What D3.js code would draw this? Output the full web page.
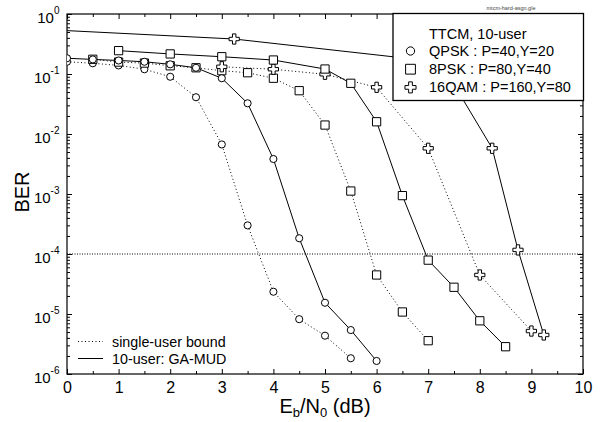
<!DOCTYPE html>
<html>
<head>
<meta charset="utf-8">
<script src="https://cdn.jsdelivr.net/npm/d3@7"></script>
<style>
  body { margin: 0; background: #fff; }
  svg { font-family: "Liberation Sans", Arial, sans-serif; }
</style>
</head>
<body>
<script>
// data: Eb/N0 points (dB) and BER for each curve
var snrQpskSU = [0, 0.5, 1, 1.5, 2, 2.5, 3, 3.5, 4, 4.5, 5, 5.5];
var berQpskSU = [0.160, 0.151, 0.139, 0.120, 0.090, 0.041, 0.0067, 3.0e-4, 2.35e-5, 8.2e-6, 4.35e-6, 1.83e-6];

var snrQpskMUD = [0, 0.5, 1, 1.5, 2, 2.5, 3, 3.5, 4, 4.5, 5, 5.5, 6];
var berQpskMUD = [0.183, 0.175, 0.168, 0.160, 0.145, 0.127, 0.085, 0.0325, 0.00383, 1.83e-4, 1.54e-5, 5.4e-6, 1.65e-6];

var snr8pskSU = [0.5, 1, 1.5, 2, 2.5, 3, 3.5, 4, 4.5, 5, 5.5, 6, 6.5, 7];
var ber8pskSU = [0.176, 0.158, 0.152, 0.137, 0.127, 0.1135, 0.105, 0.085, 0.0527, 0.0141, 0.00112, 4.47e-5, 1.08e-5, 3.59e-6];

var snr8pskMUD = [1, 2, 3, 4, 5, 5.5, 6, 6.5, 7, 7.5, 8, 8.5];
var ber8pskMUD = [0.245, 0.216, 0.194, 0.171, 0.121, 0.070, 0.016, 9.4e-4, 7.9e-5, 2.79e-5, 7.7e-6, 2.85e-6];

var snr16qamSU = [3, 4, 5, 6, 7, 8, 9];
var ber16qamSU = [0.132, 0.120, 0.099, 0.060, 0.00578, 4.47e-5, 5.2e-6];

var snr16qamMUD = [-0.76, 3.24, 7.24, 8.24, 8.74, 9.24];
var ber16qamMUD = [0.57, 0.383, 0.158, 0.00578, 1.17e-4, 4.47e-6];

var xTicks = [0, 1, 2, 3, 4, 5, 6, 7, 8, 9, 10];
var yTickExps = [0, -1, -2, -3, -4, -5, -6];
var refBer = 1e-4;

var legendRows = ["QPSK : P=40,Y=20", "8PSK : P=80,Y=40", "16QAM : P=160,Y=80"];
var lineLegend = ["single-user bound", "10-user: GA-MUD"];

var series = [
  {x: snrQpskSU, y: berQpskSU, sym: d3.symbolCircle, size: 40, legSize: 54, dash: "1,2.5"},
  {x: snr8pskSU, y: ber8pskSU, sym: d3.symbolSquare, size: 68, legSize: 96, dash: "1,2.5"},
  {x: snr16qamSU, y: ber16qamSU, sym: d3.symbolCross, size: 58, legSize: 68, dash: "1,2.5"},
  {x: snrQpskMUD, y: berQpskMUD, sym: d3.symbolCircle, size: 40, dash: null},
  {x: snr8pskMUD, y: ber8pskMUD, sym: d3.symbolSquare, size: 68, dash: null},
  {x: snr16qamMUD, y: ber16qamMUD, sym: d3.symbolCross, size: 58, dash: null}
];

var width = 603, height = 422;
var plotL = 67, plotR = 583, plotT = 14, plotB = 374;

var svg = d3.select("body").append("svg")
  .attr("width", width)
  .attr("height", height);

var x = d3.scaleLinear().domain([0, 10]).range([plotL, plotR]);
var y = d3.scaleLog().domain([1e-6, 1]).range([plotB, plotT]);

svg.append("defs").append("clipPath").attr("id", "plotclip")
  .append("rect").attr("x", plotL).attr("y", plotT)
  .attr("width", plotR - plotL).attr("height", plotB - plotT);

// minor ticks
var minorX = d3.range(0.5, 10, 1);
var minorY = [];
yTickExps.slice(1).forEach(function(e) {
  for (var k = 2; k <= 9; k++) minorY.push(k * Math.pow(10, e));
});

function styleAxis(g) {
  g.select(".domain").remove();
  g.selectAll("line").attr("stroke", "#000").attr("stroke-width", 1);
}

// x axis (bottom + top)
svg.append("g")
  .attr("transform", `translate(0,${plotB})`)
  .call(d3.axisBottom(x).tickValues(xTicks).tickSizeInner(-5).tickSizeOuter(0).tickPadding(8).tickFormat(d3.format("d")))
  .call(styleAxis)
  .selectAll("text").attr("font-size", 16).attr("fill", "#000")
  .attr("font-family", "Liberation Sans, Arial, sans-serif");
svg.append("g")
  .attr("transform", `translate(0,${plotB})`)
  .call(d3.axisBottom(x).tickValues(minorX).tickSizeInner(-3).tickSizeOuter(0).tickFormat(""))
  .call(styleAxis);
svg.append("g")
  .attr("transform", `translate(0,${plotT})`)
  .call(d3.axisTop(x).tickValues(xTicks).tickSizeInner(-5).tickSizeOuter(0).tickFormat(""))
  .call(styleAxis);
svg.append("g")
  .attr("transform", `translate(0,${plotT})`)
  .call(d3.axisTop(x).tickValues(minorX).tickSizeInner(-3).tickSizeOuter(0).tickFormat(""))
  .call(styleAxis);

// y axis (left + right)
var yMajor = yTickExps.map(function(e) { return Math.pow(10, e); });
svg.append("g")
  .attr("transform", `translate(${plotL},0)`)
  .call(d3.axisLeft(y).tickValues(yMajor).tickSizeInner(-5).tickSizeOuter(0).tickFormat(""))
  .call(styleAxis);
svg.append("g")
  .attr("transform", `translate(${plotL},0)`)
  .call(d3.axisLeft(y).tickValues(minorY).tickSizeInner(-3).tickSizeOuter(0).tickFormat(""))
  .call(styleAxis);
svg.append("g")
  .attr("transform", `translate(${plotR},0)`)
  .call(d3.axisRight(y).tickValues(yMajor).tickSizeInner(-5).tickSizeOuter(0).tickFormat(""))
  .call(styleAxis);
svg.append("g")
  .attr("transform", `translate(${plotR},0)`)
  .call(d3.axisRight(y).tickValues(minorY).tickSizeInner(-3).tickSizeOuter(0).tickFormat(""))
  .call(styleAxis);

// y tick labels 10^e
var ylab = svg.append("g").selectAll("text")
  .data(yTickExps)
  .enter().append("text")
  .attr("x", 59.5)
  .attr("y", function(e) { return y(Math.pow(10, e)) + 8.7; })
  .attr("text-anchor", "end")
  .attr("font-size", 15);
ylab.append("tspan").text("10");
ylab.append("tspan").attr("dy", -8.5).attr("font-size", 10).text(function(e) { return e; });

// plot border
svg.append("rect")
  .attr("x", plotL).attr("y", plotT)
  .attr("width", plotR - plotL).attr("height", plotB - plotT)
  .attr("fill", "none").attr("stroke", "#000").attr("stroke-width", 1.2);

var plot = svg.append("g").attr("clip-path", "url(#plotclip)");

// reference line at 1e-4
plot.append("line")
  .attr("x1", plotL).attr("x2", plotR)
  .attr("y1", y(refBer)).attr("y2", y(refBer))
  .attr("stroke", "#000").attr("stroke-width", 1)
  .attr("stroke-dasharray", "1,1.5");

var line = d3.line()
  .x(function(d) { return x(d[0]); })
  .y(function(d) { return y(d[1]); });

series.forEach(function(s) {
  var pts = s.x.map(function(v, i) { return [v, s.y[i]]; });
  plot.append("path")
    .attr("d", line(pts))
    .attr("fill", "none")
    .attr("stroke", "#000")
    .attr("stroke-width", 1)
    .attr("stroke-dasharray", s.dash);
});

series.forEach(function(s) {
  var pts = s.x.map(function(v, i) { return [v, s.y[i]]; });
  plot.selectAll(null).data(pts).enter().append("path")
    .attr("transform", function(d) { return `translate(${x(d[0])},${y(d[1])})`; })
    .attr("d", d3.symbol().type(s.sym).size(s.size))
    .attr("fill", "#fff")
    .attr("stroke", "#000")
    .attr("stroke-width", 1);
});

// axis titles
var xt = svg.append("text")
  .attr("x", 325).attr("y", 413)
  .attr("text-anchor", "middle")
  .attr("font-size", 20);
xt.append("tspan").text("E");
xt.append("tspan").attr("font-size", 13).attr("dy", 4).text("b");
xt.append("tspan").attr("dy", -4).text("/N");
xt.append("tspan").attr("font-size", 13).attr("dy", 4).text("0");
xt.append("tspan").attr("dy", -4).text(" (dB)");

svg.append("text")
  .attr("transform", "translate(29,192) rotate(-90)")
  .attr("text-anchor", "middle")
  .attr("font-size", 20)
  .text("BER");

// marker legend (top right)
var lg = svg.append("g");
lg.append("rect")
  .attr("x", 393).attr("y", 13.5).attr("width", 190.5).attr("height", 87)
  .attr("fill", "#fff").attr("stroke", "#000").attr("stroke-width", 1.3);
lg.append("text").attr("x", 429).attr("y", 38.5).attr("font-size", 14.5).text("TTCM, 10-user");
legendRows.forEach(function(t, i) {
  var yy = 51 + i * 18.2;
  lg.append("path")
    .attr("transform", `translate(410.5,${yy})`)
    .attr("d", d3.symbol().type(series[i].sym).size(series[i].legSize))
    .attr("fill", "#fff").attr("stroke", "#000").attr("stroke-width", 1);
  lg.append("text").attr("x", 429).attr("y", yy + 4.8).attr("font-size", 14.5).text(t);
});

// line-style legend (bottom left)
lineLegend.forEach(function(t, i) {
  var yy = 341.5 + i * 17;
  svg.append("line")
    .attr("x1", 78).attr("x2", 103).attr("y1", yy).attr("y2", yy)
    .attr("stroke", "#000").attr("stroke-width", 1)
    .attr("stroke-dasharray", i === 0 ? "1,2.5" : null);
  svg.append("text").attr("x", 112).attr("y", yy + 5.5).attr("font-size", 14.3).text(t);
});

// file tag
svg.append("text")
  .attr("x", 511).attr("y", 10)
  .attr("text-anchor", "middle")
  .attr("font-size", 5.5)
  .attr("fill", "#444")
  .text("mtcm-hard-asgn.gle");
</script>
</body>
</html>
